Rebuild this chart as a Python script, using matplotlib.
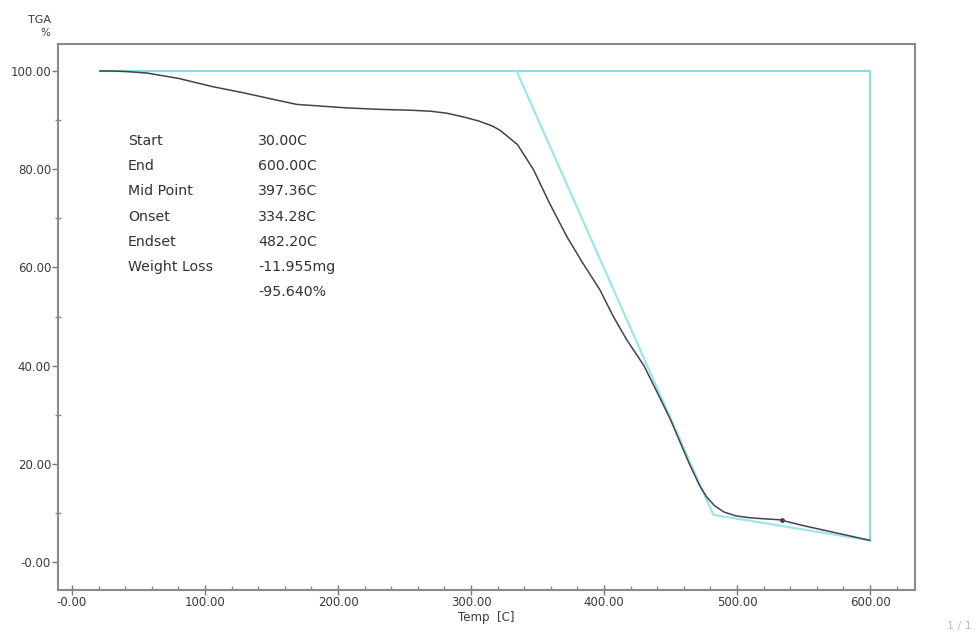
import matplotlib
matplotlib.use("Agg")
import matplotlib.pyplot as plt
from matplotlib.ticker import MultipleLocator

plt.rcParams['font.family'] = ['DejaVu Sans']

# TGA curve (Temp C, weight %)
temp = [21, 30, 40, 56, 80, 106, 130, 150, 169, 190, 206, 230, 256, 270, 282,
        295, 306, 316, 322, 335, 347, 359, 372, 384, 397, 407, 417, 430, 439,
        450, 464, 472, 477, 483, 490, 499, 510, 520, 532, 535, 550, 570, 585, 600]
weight = [100.0, 100.0, 99.9, 99.6, 98.5, 96.8, 95.5, 94.3, 93.2, 92.8, 92.5,
          92.2, 92.0, 91.8, 91.4, 90.6, 89.8, 88.8, 87.9, 85.0, 79.9, 73.1,
          66.3, 60.9, 55.4, 50.0, 45.3, 40.0, 35.1, 29.0, 20.1, 15.5, 13.3,
          11.5, 10.2, 9.4, 9.0, 8.8, 8.6, 8.4, 7.4, 6.2, 5.3, 4.4]

# analysis construction lines
box_x = [21, 600, 600]
box_y = [100.0, 100.0, 4.4]
tangent_x = [334.28, 482.2, 600]
tangent_y = [100.0, 9.6, 4.4]

x_ticks = [0, 100, 200, 300, 400, 500, 600]
y_ticks = [0, 20, 40, 60, 80, 100]

labels = ["Start", "End", "Mid Point", "Onset", "Endset", "Weight Loss", ""]
values = ["30.00C", "600.00C", "397.36C", "334.28C", "482.20C", "-11.955mg", "-95.640%"]

fig = plt.figure(figsize=(9.77, 6.35), dpi=100)
ax = fig.add_axes([0.0594, 0.0709, 0.8771, 0.8598])

ax.plot(box_x, box_y, color="#8fdcdc", lw=1.6, zorder=2)
ax.plot(tangent_x, tangent_y, color="#9fe6e6", lw=1.6, zorder=2)
ax.plot(temp, weight, color="#404352", lw=1.1, zorder=3)
ax.plot([534], [8.5], marker='o', ms=2.5, color="#404352", zorder=4)

ax.set_xlim(-10.5, 633.8)
ax.set_ylim(-5.7, 105.5)

ax.set_xticks(x_ticks)
ax.set_xticklabels(["-0.00" if v == 0 else "%.2f" % v for v in x_ticks])
ax.set_yticks(y_ticks)
ax.set_yticklabels(["-0.00" if v == 0 else "%.2f" % v for v in y_ticks])
ax.xaxis.set_minor_locator(MultipleLocator(20))
ax.yaxis.set_minor_locator(MultipleLocator(10))

for s in ax.spines.values():
    s.set_color("#8a8a8a")
    s.set_linewidth(1.5)

ax.tick_params(axis='x', which='major', direction='inout', length=7, width=1,
               color="#777777", labelsize=8.5, labelcolor="#3a3a3a", pad=1)
ax.tick_params(axis='x', which='minor', direction='in', length=3, width=1, color="#888888")
ax.tick_params(axis='y', which='major', direction='out', length=4, width=1,
               color="#777777", labelsize=8.5, labelcolor="#3a3a3a", pad=1)
ax.tick_params(axis='y', which='minor', direction='inout', length=5, width=1, color="#888888")

ax.set_xlabel("Temp  [C]", fontsize=8.5, color="#3a3a3a", labelpad=1)

fig.text(40 / 977, 1 - 20 / 635, "TGA", fontsize=8, color="#3a3a3a", ha='center', va='center')
fig.text(45 / 977, 1 - 33 / 635, "%", fontsize=7.5, color="#3a3a3a", ha='center', va='center')

y0 = 141
for i, (lab, val) in enumerate(zip(labels, values)):
    yy = 1 - (y0 + i * 25.2) / 635
    if lab:
        fig.text(128 / 977, yy, lab, fontsize=10.2, color="#333333", va='center')
    fig.text(258 / 977, yy, val, fontsize=10.2, color="#333333", va='center')

fig.text(972 / 977, 1 - 626 / 635, "1 / 1", fontsize=8, color="#bbbbbb", ha='right', va='center')

fig.savefig("out.png", dpi=100)
